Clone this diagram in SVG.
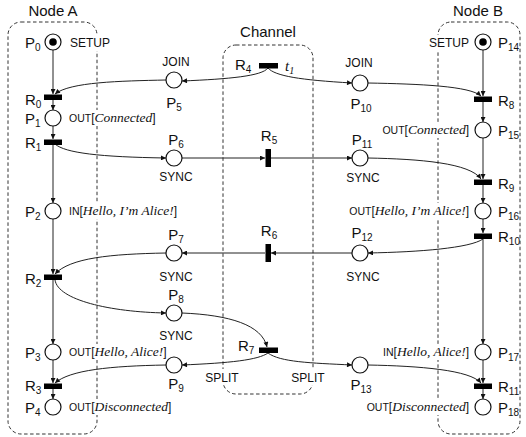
<svg xmlns="http://www.w3.org/2000/svg" width="526" height="437" viewBox="0 0 526 437">
<style>
.box{fill:none;stroke:#333;stroke-width:1;stroke-dasharray:3.5 2.5}
.pl{fill:#fff;stroke:#111;stroke-width:1.2}
.tr{fill:#000}
.arc{fill:none;stroke:#222;stroke-width:1;marker-end:url(#ah)}
.bg{fill:#fff}
.t{font-family:"Liberation Sans",Arial,sans-serif;fill:#111}
.big{font-size:15px}
.sm{font-size:12px}
.op{font-size:10.5px}
.it{font-family:"Liberation Serif","Times New Roman",serif;font-style:italic;font-size:13.5px}
.br{font-size:12px}
</style>
<defs>
<marker id="ah" viewBox="0 0 10 10" refX="10" refY="5" markerWidth="6" markerHeight="5" markerUnits="userSpaceOnUse" orient="auto"><path d="M0,0 L10,5 L0,10 z" fill="#111"/></marker>
</defs>

<g id="boxes">
<rect class="box" x="8" y="22" width="89" height="412" rx="13"/>
<rect class="box" x="223" y="45" width="90" height="349" rx="13"/>
<rect class="box" x="438" y="22" width="82" height="412" rx="13"/>
<text class="t big" x="53" y="16" text-anchor="middle">Node A</text>
<text class="t big" x="268" y="37" text-anchor="middle">Channel</text>
<text class="t big" x="478" y="16" text-anchor="middle">Node B</text>
</g>

<g id="label-backgrounds">
<rect class="bg" x="90" y="35" width="14" height="16"/>
<rect class="bg" x="90" y="110" width="14" height="16"/>
<rect class="bg" x="90" y="203" width="14" height="16"/>
<rect class="bg" x="90" y="344" width="14" height="16"/>
<rect class="bg" x="90" y="399" width="14" height="16"/>
<rect class="bg" x="431" y="35" width="14" height="16"/>
<rect class="bg" x="431" y="122" width="14" height="16"/>
<rect class="bg" x="431" y="203" width="14" height="16"/>
<rect class="bg" x="431" y="344" width="14" height="16"/>
<rect class="bg" x="431" y="399" width="14" height="16"/>
<rect class="bg" x="216" y="369" width="14" height="16"/>
<rect class="bg" x="306" y="369" width="14" height="16"/>
</g>

<g id="connectors">
<path class="arc" d="M53,50 L53,94"/>
<path class="arc" d="M166,80 C120,81 70,82 55,94"/>
<path class="arc" d="M53,100 L53,110"/>
<path class="arc" d="M53,126 L53,139"/>
<path class="arc" d="M55,144 C65,153 100,157 166,158"/>
<path class="arc" d="M53,145 L53,203"/>
<path class="arc" d="M53,219 L53,274"/>
<path class="arc" d="M166,253 C110,254 70,258 55,274"/>
<path class="arc" d="M55,280 C58,300 110,312 166,313"/>
<path class="arc" d="M53,280 L53,344"/>
<path class="arc" d="M53,360 L53,383"/>
<path class="arc" d="M166,365 C110,366 70,370 55,383"/>
<path class="arc" d="M53,389 L53,399"/>

<path class="arc" d="M268,68 C262,76 230,79 182,81"/>
<path class="arc" d="M268,68 C275,76 300,80 352,83"/>
<path class="arc" d="M182,158 L265,158"/>
<path class="arc" d="M271,158 L352,158"/>
<path class="arc" d="M352,253 L271,253"/>
<path class="arc" d="M265,253 L182,253"/>
<path class="arc" d="M182,313 C230,315 262,325 267,347"/>
<path class="arc" d="M268,353 C258,360 230,363 182,365"/>
<path class="arc" d="M268,353 C280,362 310,363 352,365"/>

<path class="arc" d="M483,50 L483,96"/>
<path class="arc" d="M368,83 C420,84 470,86 481,96"/>
<path class="arc" d="M483,102 L483,122"/>
<path class="arc" d="M483,138 L483,179"/>
<path class="arc" d="M368,158 C420,159 470,163 481,179"/>
<path class="arc" d="M483,185 L483,203"/>
<path class="arc" d="M483,219 L483,233"/>
<path class="arc" d="M483,239 C470,248 420,252 368,253"/>
<path class="arc" d="M483,239 L483,344"/>
<path class="arc" d="M483,360 L483,383"/>
<path class="arc" d="M368,365 C420,366 470,370 481,383"/>
<path class="arc" d="M483,389 L483,399"/>
</g>

<g id="P0"><circle class="pl" cx="53" cy="42" r="8"/><circle cx="53" cy="42" r="3.8" fill="#000"/>
<text class="t big" x="25" y="48">P<tspan dy="3" font-size="10">0</tspan></text>
<text class="t sm" x="70" y="47">SETUP</text></g>
<g id="R0"><rect class="tr" x="44" y="94.5" width="18" height="5.5"/><text class="t big" x="25" y="105">R<tspan dy="3" font-size="10">0</tspan></text></g>
<g id="P1"><circle class="pl" cx="53" cy="118" r="8"/><text class="t big" x="25" y="124">P<tspan dy="3" font-size="10">1</tspan></text>
<text class="t op" x="69" y="122">OUT<tspan class="br">[</tspan><tspan class="it">Connected</tspan><tspan class="br">]</tspan></text></g>
<g id="R1"><rect class="tr" x="44" y="139.5" width="18" height="5.5"/><text class="t big" x="25" y="148">R<tspan dy="3" font-size="10">1</tspan></text></g>
<g id="P2"><circle class="pl" cx="53" cy="211" r="8"/><text class="t big" x="25" y="217">P<tspan dy="3" font-size="10">2</tspan></text>
<text class="t op" x="69" y="215">IN<tspan class="br">[</tspan><tspan class="it">Hello, I’m Alice!</tspan><tspan class="br">]</tspan></text></g>
<g id="R2"><rect class="tr" x="44" y="274.5" width="18" height="5.5"/><text class="t big" x="25" y="284">R<tspan dy="3" font-size="10">2</tspan></text></g>
<g id="P3"><circle class="pl" cx="53" cy="352" r="8"/><text class="t big" x="25" y="358">P<tspan dy="3" font-size="10">3</tspan></text>
<text class="t op" x="69" y="356">OUT<tspan class="br">[</tspan><tspan class="it">Hello, Alice!</tspan><tspan class="br">]</tspan></text></g>
<g id="R3"><rect class="tr" x="44" y="383.5" width="18" height="5.5"/><text class="t big" x="25" y="391">R<tspan dy="3" font-size="10">3</tspan></text></g>
<g id="P4"><circle class="pl" cx="53" cy="407" r="8"/><text class="t big" x="25" y="413">P<tspan dy="3" font-size="10">4</tspan></text>
<text class="t op" x="69" y="411">OUT<tspan class="br">[</tspan><tspan class="it">Disconnected</tspan><tspan class="br">]</tspan></text></g>

<g id="P5"><circle class="pl" cx="174" cy="80" r="8"/><text class="t sm" x="176" y="66" text-anchor="middle">JOIN</text>
<text class="t big" x="174" y="108" text-anchor="middle">P<tspan dy="3" font-size="10">5</tspan></text></g>
<g id="P6"><circle class="pl" cx="174" cy="158" r="8"/><text class="t big" x="176" y="145" text-anchor="middle">P<tspan dy="3" font-size="10">6</tspan></text>
<text class="t sm" x="176" y="181" text-anchor="middle">SYNC</text></g>
<g id="P7"><circle class="pl" cx="174" cy="253" r="8"/><text class="t big" x="176" y="240" text-anchor="middle">P<tspan dy="3" font-size="10">7</tspan></text>
<text class="t sm" x="176" y="281" text-anchor="middle">SYNC</text></g>
<g id="P8"><circle class="pl" cx="174" cy="313" r="8"/><text class="t big" x="176" y="300" text-anchor="middle">P<tspan dy="3" font-size="10">8</tspan></text>
<text class="t sm" x="176" y="340" text-anchor="middle">SYNC</text></g>
<g id="P9"><circle class="pl" cx="174" cy="365" r="8"/><text class="t big" x="176" y="389" text-anchor="middle">P<tspan dy="3" font-size="10">9</tspan></text></g>

<g id="R4"><rect class="tr" x="259" y="63" width="19" height="5.5"/><text class="t big" x="235" y="70">R<tspan dy="3" font-size="10">4</tspan></text>
<text x="285" y="71" fill="#111" style="font-family:'Liberation Serif','Times New Roman',serif;font-style:italic;font-size:15px">t<tspan dy="3" style="font-size:10px">1</tspan></text></g>
<g id="R5"><rect class="tr" x="265.5" y="149" width="5.5" height="18"/><text class="t big" x="269" y="141" text-anchor="middle">R<tspan dy="3" font-size="10">5</tspan></text></g>
<g id="R6"><rect class="tr" x="265.5" y="244" width="5.5" height="18"/><text class="t big" x="269" y="236" text-anchor="middle">R<tspan dy="3" font-size="10">6</tspan></text></g>
<g id="R7"><rect class="tr" x="259" y="347.5" width="19" height="5.5"/><text class="t big" x="238" y="351">R<tspan dy="3" font-size="10">7</tspan></text>
<text class="t sm" x="222" y="382" text-anchor="middle">SPLIT</text>
<text class="t sm" x="308" y="382" text-anchor="middle">SPLIT</text></g>

<g id="P10"><circle class="pl" cx="360" cy="83" r="8"/><text class="t sm" x="359" y="67" text-anchor="middle">JOIN</text>
<text class="t big" x="361" y="109" text-anchor="middle">P<tspan dy="3" font-size="10">10</tspan></text></g>
<g id="P11"><circle class="pl" cx="360" cy="158" r="8"/><text class="t big" x="362" y="145" text-anchor="middle">P<tspan dy="3" font-size="10">11</tspan></text>
<text class="t sm" x="363" y="182" text-anchor="middle">SYNC</text></g>
<g id="P12"><circle class="pl" cx="360" cy="253" r="8"/><text class="t big" x="362" y="238" text-anchor="middle">P<tspan dy="3" font-size="10">12</tspan></text>
<text class="t sm" x="363" y="281" text-anchor="middle">SYNC</text></g>
<g id="P13"><circle class="pl" cx="360" cy="365" r="8"/><text class="t big" x="361" y="390" text-anchor="middle">P<tspan dy="3" font-size="10">13</tspan></text></g>

<g id="P14"><circle class="pl" cx="483" cy="42" r="8"/><circle cx="483" cy="42" r="3.8" fill="#000"/>
<text class="t big" x="498" y="48">P<tspan dy="3" font-size="10">14</tspan></text>
<text class="t sm" x="469" y="47" text-anchor="end">SETUP</text></g>
<g id="R8"><rect class="tr" x="474" y="96.5" width="18" height="5.5"/><text class="t big" x="498" y="106">R<tspan dy="3" font-size="10">8</tspan></text></g>
<g id="P15"><circle class="pl" cx="483" cy="130" r="8"/><text class="t big" x="498" y="136">P<tspan dy="3" font-size="10">15</tspan></text>
<text class="t op" x="469" y="134" text-anchor="end">OUT<tspan class="br">[</tspan><tspan class="it">Connected</tspan><tspan class="br">]</tspan></text></g>
<g id="R9"><rect class="tr" x="474" y="179.5" width="18" height="5.5"/><text class="t big" x="498" y="189">R<tspan dy="3" font-size="10">9</tspan></text></g>
<g id="P16"><circle class="pl" cx="483" cy="211" r="8"/><text class="t big" x="498" y="217">P<tspan dy="3" font-size="10">16</tspan></text>
<text class="t op" x="469" y="215" text-anchor="end">OUT<tspan class="br">[</tspan><tspan class="it">Hello, I’m Alice!</tspan><tspan class="br">]</tspan></text></g>
<g id="R10"><rect class="tr" x="474" y="233.5" width="18" height="5.5"/><text class="t big" x="498" y="242">R<tspan dy="3" font-size="10">10</tspan></text></g>
<g id="P17"><circle class="pl" cx="483" cy="352" r="8"/><text class="t big" x="498" y="358">P<tspan dy="3" font-size="10">17</tspan></text>
<text class="t op" x="469" y="356" text-anchor="end">IN<tspan class="br">[</tspan><tspan class="it">Hello, Alice!</tspan><tspan class="br">]</tspan></text></g>
<g id="R11"><rect class="tr" x="474" y="383.5" width="18" height="5.5"/><text class="t big" x="498" y="392">R<tspan dy="3" font-size="10">11</tspan></text></g>
<g id="P18"><circle class="pl" cx="483" cy="407" r="8"/><text class="t big" x="498" y="413">P<tspan dy="3" font-size="10">18</tspan></text>
<text class="t op" x="469" y="411" text-anchor="end">OUT<tspan class="br">[</tspan><tspan class="it">Disconnected</tspan><tspan class="br">]</tspan></text></g>
</svg>
